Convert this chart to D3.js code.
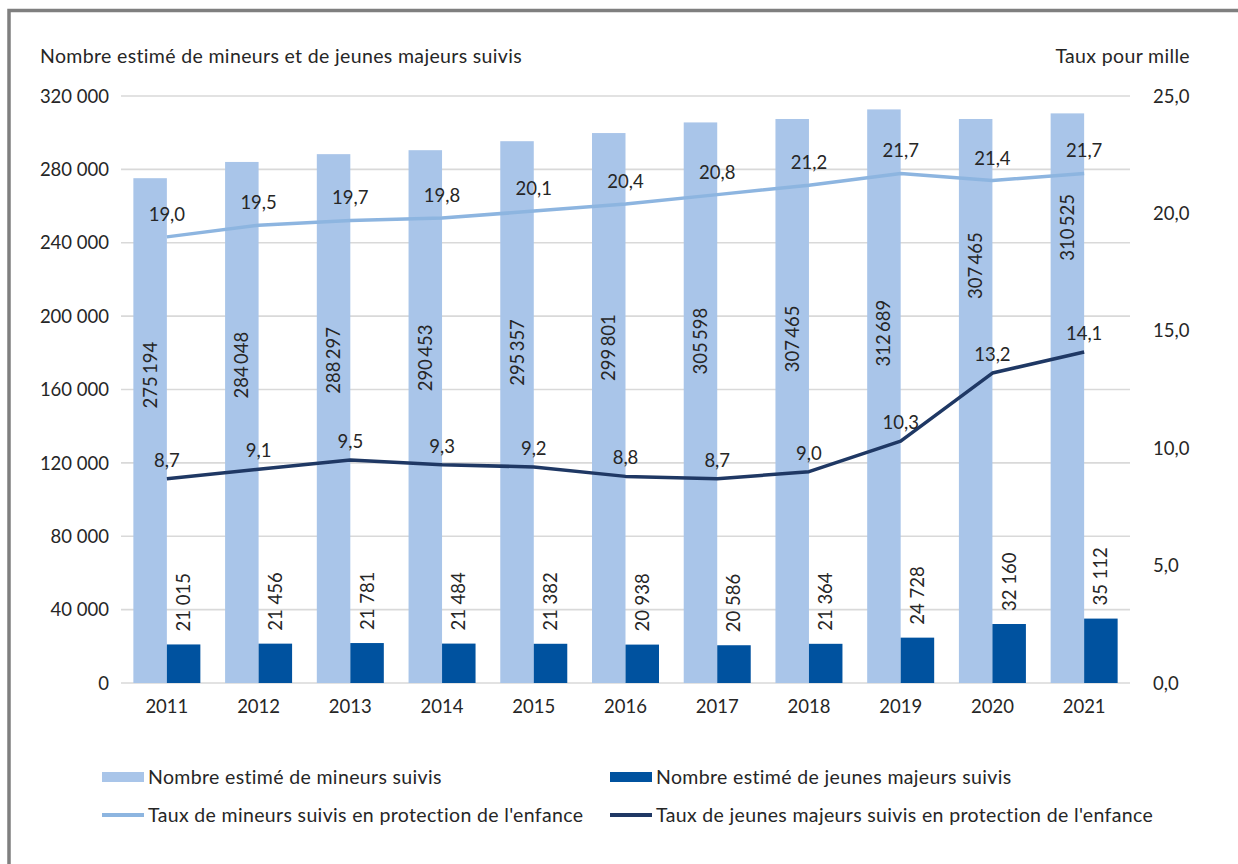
<!DOCTYPE html>
<html>
<head>
<meta charset="utf-8">
<script src="https://cdn.jsdelivr.net/npm/d3@7"></script>
<style>
  body { margin: 0; background: #fff; }
  text { font-family: Lato, "Open Sans", sans-serif; fill: #262626; }
  .words { font-size: 19.5px; letter-spacing: 0.35px; }
</style>
</head>
<body>
<div id="chart"></div>
<script>
// data
var years = [2011, 2012, 2013, 2014, 2015, 2016, 2017, 2018, 2019, 2020, 2021];
var mineurs = [275194, 284048, 288297, 290453, 295357, 299801, 305598, 307465, 312689, 307465, 310525];
var majeurs = [21015, 21456, 21781, 21484, 21382, 20938, 20586, 21364, 24728, 32160, 35112];
var tauxMineurs = [19.0, 19.5, 19.7, 19.8, 20.1, 20.4, 20.8, 21.2, 21.7, 21.4, 21.7];
var tauxMajeurs = [8.7, 9.1, 9.5, 9.3, 9.2, 8.8, 8.7, 9.0, 10.3, 13.2, 14.1];
var leftTicks = [0, 40000, 80000, 120000, 160000, 200000, 240000, 280000, 320000];
var rightTicks = [0, 5, 10, 15, 20, 25];
var seriesNames = [
  "Nombre estimé de mineurs suivis",
  "Nombre estimé de jeunes majeurs suivis",
  "Taux de mineurs suivis en protection de l'enfance",
  "Taux de jeunes majeurs suivis en protection de l'enfance"
];
var leftTitle = "Nombre estimé de mineurs et de jeunes majeurs suivis";
var rightTitle = "Taux pour mille";

// colours
var cLightBar = "#a9c5e9", cDarkBar = "#00529f", cLightLine = "#8db5e0", cDarkLine = "#1f3864";

var width = 1238, height = 864;
var svg = d3.select("#chart").append("svg")
  .attr("width", width)
  .attr("height", height);

// outer frame
svg.append("rect")
  .attr("x", 9).attr("y", 10.5)
  .attr("width", 1400).attr("height", 1000)
  .attr("fill", "none")
  .attr("stroke", "#7f7f7f")
  .attr("stroke-width", 3.5);

var fr = d3.formatLocale({decimal: ",", thousands: " ", grouping: [3], currency: ["", ""]});
var fmtInt = fr.format(",d");
var fmtDec = fr.format(".1f");
// minors bar labels use a thinner gap between thousands
var frThin = d3.formatLocale({decimal: ",", thousands: "\u2009", grouping: [3], currency: ["", ""]});
var fmtBar = frThin.format(",d");

var x = d3.scaleBand().domain(years).range([121, 1130]);
var bw = x.bandwidth();
var inner = d3.scaleBand().domain([0, 1]).range([bw / 2 - 33.5, bw / 2 + 33.5]);
var yL = d3.scaleLinear().domain([0, 320000]).range([683, 96]);
var yR = d3.scaleLinear().domain([0, 25]).range([683, 96]);

// gridlines
svg.append("g").selectAll("line")
  .data(leftTicks).enter().append("line")
    .attr("x1", 121).attr("x2", 1130)
    .attr("y1", function(d) { return yL(d); })
    .attr("y2", function(d) { return yL(d); })
    .attr("stroke", "#d9d9d9")
    .attr("stroke-width", 1.6);

// axis labels
svg.append("g").selectAll("text")
  .data(leftTicks).enter().append("text")
    .attr("x", 109)
    .attr("y", function(d) { return yL(d); })
    .attr("dy", "0.36em")
    .attr("text-anchor", "end")
    .style("font-size", "18.5px")
    .text(function(d) { return fmtInt(d); });

svg.append("g").selectAll("text")
  .data(rightTicks).enter().append("text")
    .attr("x", 1153)
    .attr("y", function(d) { return yR(d); })
    .attr("dy", "0.36em")
    .style("font-size", "18.5px")
    .text(function(d) { return fmtDec(d); });

svg.append("g").selectAll("text")
  .data(years).enter().append("text")
    .attr("x", function(d) { return x(d) + bw / 2; })
    .attr("y", 713)
    .attr("text-anchor", "middle")
    .style("font-size", "18.5px")
    .text(function(d) { return d; });

svg.append("text")
  .attr("class", "words")
  .attr("x", 40).attr("y", 63)
  .text(leftTitle);
svg.append("text")
  .attr("class", "words")
  .attr("x", 1190).attr("y", 63)
  .attr("text-anchor", "end")
  .text(rightTitle);

// bars
svg.append("g").selectAll("rect")
  .data(years).enter().append("rect")
    .attr("x", function(d) { return x(d) + inner(0); })
    .attr("y", function(d, i) { return yL(mineurs[i]); })
    .attr("width", inner.bandwidth())
    .attr("height", function(d, i) { return yL(0) - yL(mineurs[i]); })
    .attr("fill", cLightBar);

svg.append("g").selectAll("rect")
  .data(years).enter().append("rect")
    .attr("x", function(d) { return x(d) + inner(1); })
    .attr("y", function(d, i) { return yL(majeurs[i]); })
    .attr("width", inner.bandwidth())
    .attr("height", function(d, i) { return yL(0) - yL(majeurs[i]); })
    .attr("fill", cDarkBar);

// lines
var lineL = d3.line()
  .x(function(d, i) { return x(years[i]) + bw / 2; })
  .y(function(d) { return yR(d); });

svg.append("path").datum(tauxMineurs)
  .attr("d", lineL)
  .attr("fill", "none")
  .attr("stroke", cLightLine)
  .attr("stroke-width", 3.5)
  .attr("stroke-linejoin", "round");

svg.append("path").datum(tauxMajeurs)
  .attr("d", lineL)
  .attr("fill", "none")
  .attr("stroke", cDarkLine)
  .attr("stroke-width", 3.5)
  .attr("stroke-linejoin", "round");

// bar value labels (minors labels were moved by hand in the original, last two sit higher)
var labelFrac = [0.61, 0.61, 0.61, 0.61, 0.61, 0.61, 0.61, 0.61, 0.61, 0.74, 0.8];
svg.append("g").selectAll("text")
  .data(years).enter().append("text")
    .attr("transform", function(d, i) {
      return "translate(" + (x(d) + inner(0) + inner.bandwidth() / 2) + "," + yL(mineurs[i] * labelFrac[i]) + ") rotate(-90)";
    })
    .attr("dy", "0.35em")
    .attr("text-anchor", "middle")
    .style("font-size", "18.5px")
    .text(function(d, i) { return fmtBar(mineurs[i]); });

svg.append("g").selectAll("text")
  .data(years).enter().append("text")
    .attr("transform", function(d, i) {
      return "translate(" + (x(d) + inner(1) + inner.bandwidth() / 2) + "," + (yL(majeurs[i]) - 13) + ") rotate(-90)";
    })
    .attr("dy", "0.35em")
    .style("font-size", "18.5px")
    .text(function(d, i) { return fmtInt(majeurs[i]); });

// line value labels
svg.append("g").selectAll("text")
  .data(tauxMineurs).enter().append("text")
    .attr("x", function(d, i) { return x(years[i]) + bw / 2; })
    .attr("y", function(d) { return yR(d) - 16; })
    .attr("text-anchor", "middle")
    .style("font-size", "18.5px")
    .text(function(d) { return fmtDec(d); });

svg.append("g").selectAll("text")
  .data(tauxMajeurs).enter().append("text")
    .attr("x", function(d, i) { return x(years[i]) + bw / 2; })
    .attr("y", function(d) { return yR(d) - 12; })
    .attr("text-anchor", "middle")
    .style("font-size", "18.5px")
    .text(function(d) { return fmtDec(d); });

// legend
var legX = [102, 610], legY = [777, 815];
var legend = svg.append("g");
seriesNames.forEach(function(name, i) {
  var lx = legX[i % 2], ly = legY[Math.floor(i / 2)];
  var col = [cLightBar, cDarkBar, cLightLine, cDarkLine][i];
  if (i < 2) {
    legend.append("rect")
      .attr("x", lx).attr("y", ly - 5)
      .attr("width", 42).attr("height", 10)
      .attr("fill", col);
  } else {
    legend.append("line")
      .attr("x1", lx).attr("x2", lx + 42)
      .attr("y1", ly).attr("y2", ly)
      .attr("stroke", col)
      .attr("stroke-width", 4);
  }
  legend.append("text")
    .attr("class", "words")
    .attr("x", lx + 46).attr("y", ly)
    .attr("dy", "0.36em")
    .text(name);
});
</script>
</body>
</html>
